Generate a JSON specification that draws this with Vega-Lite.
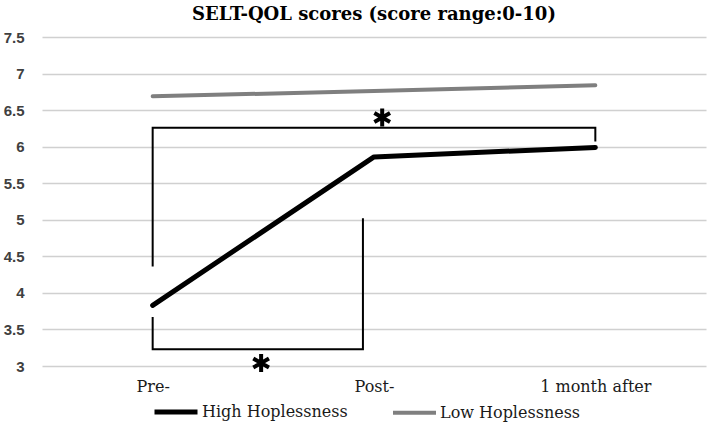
{
  "$schema": "https://vega.github.io/schema/vega-lite/v6.json",
  "width": 664,
  "height": 329,
  "autosize": "none",
  "padding": {"left": 42, "top": 37, "right": 3, "bottom": 59},
  "background": "white",
  "title": {
    "text": "SELT-QOL scores (score range:0-10)",
    "font": "DejaVu Serif",
    "fontSize": 18,
    "fontWeight": "bold",
    "color": "#000000",
    "anchor": "middle",
    "offset": 6
  },
  "config": {"view": {"stroke": null}},
  "datasets": {
    "scores": [
      {"time": 0, "series": "High Hoplessness", "score": 3.83},
      {"time": 1, "series": "High Hoplessness", "score": 5.86},
      {"time": 2, "series": "High Hoplessness", "score": 5.99},
      {"time": 0, "series": "Low Hoplessness", "score": 6.69},
      {"time": 1, "series": "Low Hoplessness", "score": 6.76},
      {"time": 2, "series": "Low Hoplessness", "score": 6.84}
    ],
    "brackets": [
      {"bracket": "top", "ord": 1, "time": 0, "score": 4.36},
      {"bracket": "top", "ord": 2, "time": 0, "score": 6.26},
      {"bracket": "top", "ord": 3, "time": 2, "score": 6.26},
      {"bracket": "top", "ord": 4, "time": 2, "score": 6.07},
      {"bracket": "bottom", "ord": 1, "time": 0, "score": 3.67},
      {"bracket": "bottom", "ord": 2, "time": 0, "score": 3.23},
      {"bracket": "bottom", "ord": 3, "time": 0.95, "score": 3.23},
      {"bracket": "bottom", "ord": 4, "time": 0.95, "score": 5.02}
    ],
    "stars": [
      {"time": 1.037, "score": 6.4},
      {"time": 0.49, "score": 3.04}
    ]
  },
  "encoding": {
    "x": {
      "field": "time",
      "type": "quantitative",
      "scale": {"domain": [-0.5, 2.5], "nice": false, "zero": false},
      "axis": {
        "title": null,
        "values": [0, 1, 2],
        "labelExpr": "datum.value == 0 ? 'Pre-' : datum.value == 1 ? 'Post-' : '1 month after'",
        "grid": false,
        "domain": false,
        "ticks": false,
        "labelPadding": 12,
        "labelFont": "DejaVu Serif",
        "labelFontSize": 16,
        "labelColor": "#1a1a1a"
      }
    },
    "y": {
      "field": "score",
      "type": "quantitative",
      "scale": {"domain": [3, 7.5], "nice": false, "zero": false},
      "axis": {
        "title": null,
        "values": [3, 3.5, 4, 4.5, 5, 5.5, 6, 6.5, 7, 7.5],
        "format": "~g",
        "labelOverlap": false,
        "domain": false,
        "ticks": false,
        "labelPadding": 18,
        "labelFont": "Liberation Sans",
        "labelFontSize": 15,
        "labelFontWeight": "bold",
        "labelColor": "#404040",
        "gridColor": "#d0d0d0",
        "gridWidth": 1.5
      }
    }
  },
  "layer": [
    {
      "data": {"name": "scores"},
      "mark": {"type": "line", "strokeCap": "round", "strokeJoin": "round"},
      "encoding": {
        "color": {
          "field": "series",
          "type": "nominal",
          "scale": {"domain": ["High Hoplessness", "Low Hoplessness"], "range": ["#000000", "#7f7f7f"]},
          "legend": {
            "title": null,
            "orient": "none",
            "legendX": 110,
            "legendY": 351,
            "direction": "horizontal",
            "symbolType": "stroke",
            "symbolSize": 1849,
            "symbolStrokeWidth": 4,
            "labelFont": "DejaVu Serif",
            "labelFontSize": 16,
            "labelColor": "#1a1a1a",
            "labelOffset": 2,
            "columnPadding": 37
          }
        },
        "strokeWidth": {
          "field": "series",
          "type": "nominal",
          "scale": {"domain": ["High Hoplessness", "Low Hoplessness"], "range": [5, 4]},
          "legend": null
        }
      }
    },
    {
      "data": {"name": "brackets"},
      "mark": {"type": "line", "color": "#000000", "strokeWidth": 2},
      "encoding": {
        "detail": {"field": "bracket"},
        "order": {"field": "ord", "type": "quantitative"}
      }
    },
    {
      "data": {"name": "stars"},
      "mark": {
        "type": "point",
        "shape": "M0,-1L0,1M-0.87,-0.5L0.87,0.5M-0.87,0.5L0.87,-0.5",
        "filled": false,
        "stroke": "#000000",
        "strokeWidth": 4,
        "size": 324,
        "opacity": 1
      },
      "encoding": {}
    }
  ]
}
